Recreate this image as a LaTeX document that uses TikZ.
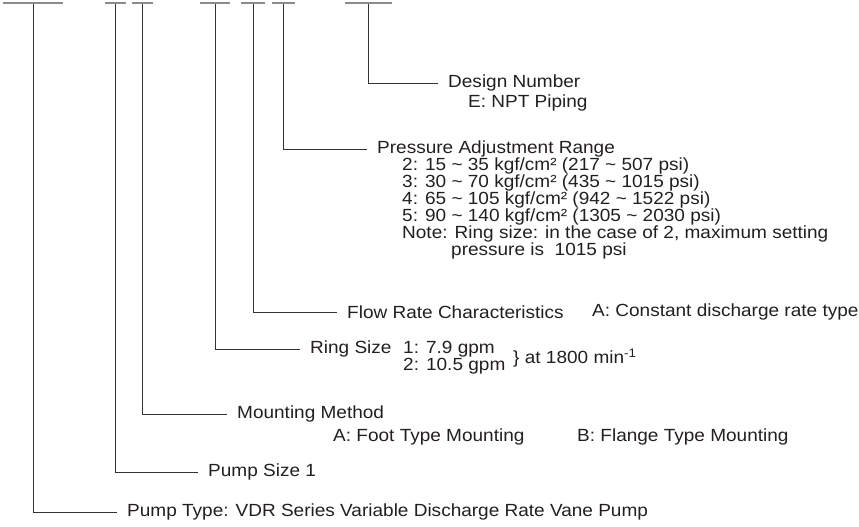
\documentclass[tikz,border=0pt]{standalone}
\usepackage{fontspec}
\setmainfont{Liberation Sans}[FakeStretch=1.08]
\usepackage{tikz}
\usetikzlibrary{positioning}
\definecolor{txtgray}{HTML}{231F20}
\definecolor{bargray}{HTML}{8C8C8C}
\newcommand{\tld}{\textasciitilde}

\begin{document}
\begin{tikzpicture}[
x=1pt, y=-1pt,
font=\fontsize{17.6}{17}\selectfont,
bar/.style={fill=bargray, minimum height=2.2pt, inner sep=0pt},
lbl/.style={anchor=west, inner xsep=10pt, inner ysep=0pt, text=txtgray},
sub/.style={anchor=west, inner sep=0pt, text=txtgray},
lead/.style={draw=black!80, line width=0.9pt}
]
\useasboundingbox (0,0) rectangle (859,527);

% code segments
\node[bar, minimum width=60pt] (bType) at (33,3) {};
\node[bar, minimum width=21pt] (bSize) at (115,3) {};
\node[bar, minimum width=21pt] (bMount) at (142,3) {};
\node[bar, minimum width=30pt] (bRing) at (215,3) {};
\node[bar, minimum width=24pt] (bFlow) at (253,3) {};
\node[bar, minimum width=23pt] (bPress) at (283,3) {};
\node[bar, minimum width=47pt] (bDesign) at (368,3) {};

% labels
\node[lbl] (design) at (438,83) {Design Number};
\node[sub] (designE) at (468,103) {E: NPT Piping};

\node[lbl] (press) at (367,149) {Pressure Adjustment Range};
\node[sub] (press2) at (402,166) {2: 15 \tld{} 35 kgf/cm² (217 \tld{} 507 psi)};
\node[sub] (press3) at (402,183) {3: 30 \tld{} 70 kgf/cm² (435 \tld{} 1015 psi)};
\node[sub] (press4) at (402,200) {4: 65 \tld{} 105 kgf/cm² (942 \tld{} 1522 psi)};
\node[sub] (press5) at (402,217) {5: 90 \tld{} 140 kgf/cm² (1305 \tld{} 2030 psi)};
\node[sub] (note) at (402,234) {Note: Ring size: in the case of 2, maximum setting};
\node[sub] (note2) at (451,251) {pressure is\ \ 1015 psi};

\node[lbl] (flow) at (337,312) {Flow Rate Characteristics};
\node[sub] (flowA) at (592,312) {A: Constant discharge rate type};

\node[lbl] (ring) at (300,349) {Ring Size};
\node[sub] (ring1) at (403,349) {1: 7.9 gpm};
\node[sub] (ring2) at (403,366) {2: 10.5 gpm};
\node[sub] (ringAt) at (513,358) {\} at 1800 min\textsuperscript{-1}};

\node[lbl] (mount) at (227,414) {Mounting Method};
\node[sub] (mountA) at (333,437) {A: Foot Type Mounting};
\node[sub] (mountB) at (577,437) {B: Flange Type Mounting};

\node[lbl] (size) at (198,472) {Pump Size 1};

\node[lbl] (type) at (117,512) {Pump Type: VDR Series Variable Discharge Rate Vane Pump};

% leaders
\draw[lead] (bDesign.south) |- (design.west);
\draw[lead] (bPress.south) |- (press.west);
\draw[lead] (bFlow.south) |- (flow.west);
\draw[lead] (bRing.south) |- (ring.west);
\draw[lead] (bMount.south) |- (mount.west);
\draw[lead] (bSize.south) |- (size.west);
\draw[lead] (bType.south) |- (type.west);
\end{tikzpicture}
\end{document}
